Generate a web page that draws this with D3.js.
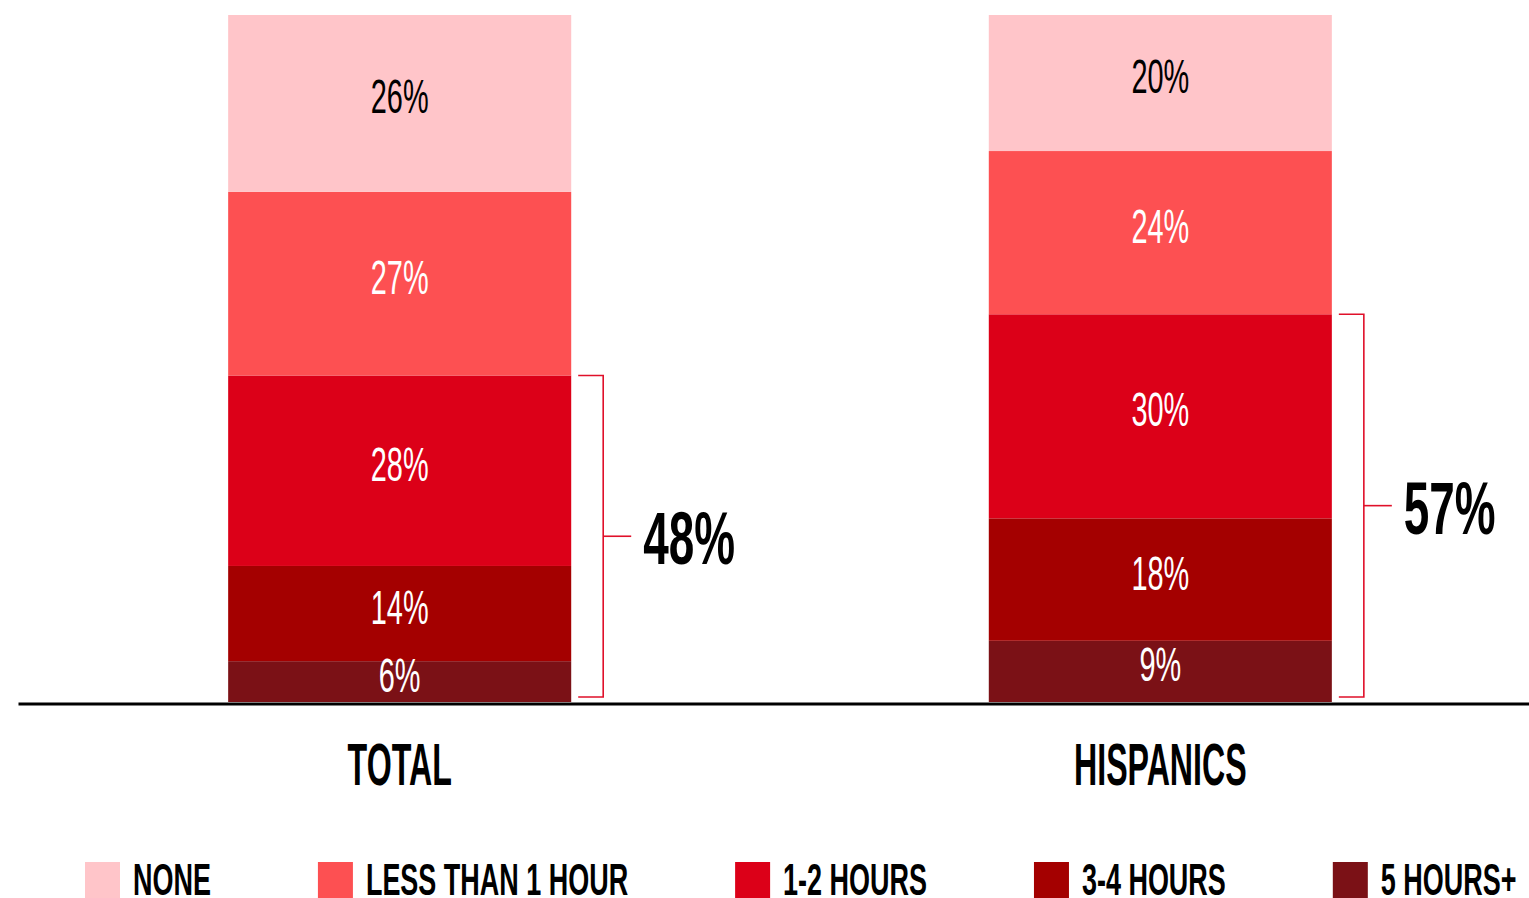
<!DOCTYPE html>
<html>
<head>
<meta charset="utf-8">
<script src="https://cdn.jsdelivr.net/npm/d3@7"></script>
<style>
  html, body { margin: 0; padding: 0; background: #ffffff; }
  svg { display: block; }
  text { font-family: "Liberation Sans", Arial, sans-serif; }
</style>
</head>
<body>
<svg id="chart" width="1529" height="898"></svg>
<script>
// ---- data ----
const categories = ["TOTAL", "HISPANICS"];
const seriesNames = ["NONE", "LESS THAN 1 HOUR", "1-2 HOURS", "3-4 HOURS", "5 HOURS+"];
const noneValues = [26, 20];
const lessThanOneHourValues = [27, 24];
const oneToTwoHoursValues = [28, 30];
const threeToFourHoursValues = [14, 18];
const fiveHoursPlusValues = [6, 9];
const bracketSeries = ["1-2 HOURS", "3-4 HOURS", "5 HOURS+"];
const seriesColors = ["#FFC5C9", "#FD5052", "#DC0018", "#A40000", "#7B1116"];
const labelColors = ["#000000", "#ffffff", "#ffffff", "#ffffff", "#ffffff"];

// ---- build table ----
const valueArrays = [noneValues, lessThanOneHourValues, oneToTwoHoursValues, threeToFourHoursValues, fiveHoursPlusValues];
const table = categories.map((c, i) => {
  const row = { category: c };
  seriesNames.forEach((s, j) => row[s] = valueArrays[j][i]);
  return row;
});

const svg = d3.select("#chart");
const W = 1529;
const baseY = 702;
const topY = 15;

const x = d3.scaleBand().domain(categories).range([38, 1522]).paddingInner(0.549).paddingOuter(0.25);
const totals = table.map(r => d3.sum(seriesNames, s => r[s]));
const y = d3.scaleLinear().domain([0, d3.max(totals)]).range([baseY, topY]);
const color = d3.scaleOrdinal().domain(seriesNames).range(seriesColors);
const labelColor = d3.scaleOrdinal().domain(seriesNames).range(labelColors);

// stack bottom-up: 5 HOURS+ at bottom, NONE at top
const stackKeys = seriesNames.slice().reverse();
const stacked = d3.stack().keys(stackKeys)(table);

const layers = svg.append("g").selectAll("g")
  .data(stacked).join("g")
  .attr("fill", d => color(d.key));

layers.selectAll("rect")
  .data(d => d.map(v => Object.assign(v, { key: d.key })))
  .join("rect")
  .attr("x", d => x(d.data.category))
  .attr("width", x.bandwidth())
  .attr("y", d => y(d[1]))
  .attr("height", d => y(d[0]) - y(d[1]));

// segment labels
const segScale = 0.59;
svg.append("g").selectAll("g")
  .data(stacked).join("g")
  .selectAll("text")
  .data(d => d.map(v => Object.assign(v, { key: d.key })))
  .join("text")
  .attr("transform", d => `translate(${x(d.data.category) + x.bandwidth() / 2},${(y(d[0]) + y(d[1])) / 2 + 10}) scale(${segScale},1)`)
  .attr("text-anchor", "middle")
  .attr("font-size", 49)
  .attr("fill", d => labelColor(d.key))
  .text(d => (d[1] - d[0]) + "%");

// baseline axis
const xAxisLine = d3.axisBottom(d3.scaleLinear().range([18, W])).ticks(0).tickSize(0).tickFormat("");
const axisG = svg.append("g").attr("transform", `translate(0,${baseY + 1.5})`).call(xAxisLine);
axisG.select(".domain").attr("stroke", "#000").attr("stroke-width", 3);

// category labels
const catScale = 0.545;
svg.append("g").selectAll("text")
  .data(categories).join("text")
  .attr("transform", c => `translate(${x(c) + x.bandwidth() / 2},785) scale(${catScale},1)`)
  .attr("text-anchor", "middle")
  .attr("font-size", 59)
  .attr("font-weight", "bold")
  .attr("fill", "#000")
  .text(c => c);

// brackets
const bracketColor = "#E0102A";
const bracketData = table.map(r => {
  const sum = d3.sum(bracketSeries, s => r[s]);
  return { category: r.category, sum: sum };
});
const bg = svg.append("g").selectAll("g").data(bracketData).join("g");
bg.append("path")
  .attr("fill", "none")
  .attr("stroke", bracketColor)
  .attr("stroke-width", 1.6)
  .attr("d", d => {
    const x0 = x(d.category) + x.bandwidth() + 7;
    const x1 = x0 + 25;
    const yTop = y(d.sum);
    const yBot = y(0) - 5;
    return `M${x0},${yTop}H${x1}V${yBot}H${x0}`;
  });
bg.append("path")
  .attr("fill", "none")
  .attr("stroke", bracketColor)
  .attr("stroke-width", 1.6)
  .attr("d", d => {
    const x1 = x(d.category) + x.bandwidth() + 32;
    const ym = (y(d.sum) + y(0) - 5) / 2;
    return `M${x1},${ym}H${x1 + 28}`;
  });
bg.append("text")
  .attr("transform", d => {
    const x1 = x(d.category) + x.bandwidth() + 32;
    const ym = (y(d.sum) + y(0) - 5) / 2;
    return `translate(${x1 + 40},${ym + 28}) scale(0.62,1)`;
  })
  .attr("font-size", 74)
  .attr("font-weight", "bold")
  .attr("fill", "#000")
  .text(d => d.sum + "%");

// legend
const legScale = 0.613;
const legend = svg.append("g");
let lx = 85;
seriesNames.forEach(s => {
  legend.append("rect")
    .attr("x", lx).attr("y", 862)
    .attr("width", 35).attr("height", 36)
    .attr("fill", color(s));
  const t = legend.append("text")
    .attr("transform", `translate(${lx + 48},895) scale(${legScale},1)`)
    .attr("font-size", 44)
    .attr("font-weight", "bold")
    .attr("fill", "#000")
    .text(s);
  const w = t.node().getComputedTextLength() * legScale;
  lx = lx + 48 + w + 107;
});
</script>
</body>
</html>
